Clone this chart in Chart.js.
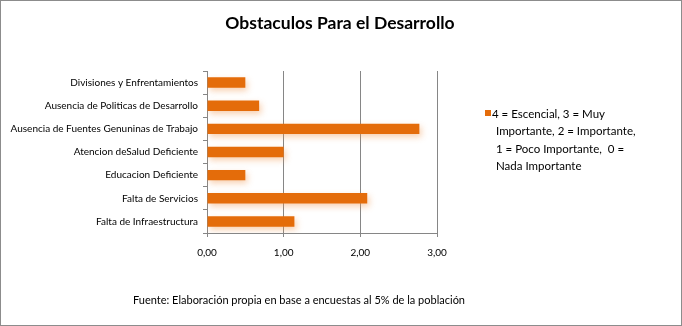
<!DOCTYPE html>
<html>
<head>
<meta charset="utf-8">
<script src="https://cdn.jsdelivr.net/npm/chart.js@4/dist/chart.umd.min.js"></script>
<style>
  html, body { margin: 0; padding: 0; background: #fff; }
  #wrap { width: 682px; height: 326px; }
</style>
</head>
<body>
<div id="wrap"><canvas id="chart" width="682" height="326"></canvas></div>
<script>
// Obstacles to development: average importance score per item
const categories = [
  'Divisiones y Enfrentamientos',
  'Ausencia de Politicas de Desarrollo',
  'Ausencia de Fuentes Genuninas de Trabajo',
  'Atencion deSalud Deficiente',
  'Educacion Deficiente',
  'Falta de Servicios',
  'Falta de Infraestructura'
];
const scores = [0.50, 0.68, 2.77, 1.00, 0.50, 2.09, 1.14];
const seriesLabel = '4 = Escencial, 3 = Muy Importante, 2 = Importante, 1 = Poco Importante,  0 = Nada Importante';
const legendLines = [
  '4 = Escencial, 3 = Muy',
  'Importante, 2 = Importante,',
  '1 = Poco Importante,  0 =',
  'Nada Importante'
];
const tickValues = [0, 1, 2, 3];
const chartTitle = 'Obstaculos Para el Desarrollo';
const sourceNote = 'Fuente: Elaboración propia en base a encuestas al 5% de la población';

const ORANGE = '#E46C0A';
const GRID = '#868686';
const FONT = 'Lato, "Open Sans", sans-serif';

// White background + thin frame around the whole figure
const framePlugin = {
  id: 'frame',
  beforeDraw(chart) {
    const c = chart.ctx;
    c.save();
    c.fillStyle = '#fff';
    c.fillRect(0, 0, chart.width, chart.height);
    c.restore();
  },
  afterDraw(chart) {
    const c = chart.ctx;
    c.save();
    c.strokeStyle = '#8c8c8c';
    c.lineWidth = 1;
    c.strokeRect(0.5, 0.5, chart.width - 1, chart.height - 1);
    c.restore();
  }
};

// Soft drop shadow under the bars
const shadowPlugin = {
  id: 'barShadow',
  beforeDatasetsDraw(chart) {
    const c = chart.ctx;
    c.save();
    c.shadowColor = 'rgba(240,150,80,0.45)';
    c.shadowBlur = 6;
    c.shadowOffsetX = 2;
    c.shadowOffsetY = 3;
  },
  afterDatasetsDraw(chart) {
    chart.ctx.restore();
  }
};

// Centered heading, side legend with wrapped text, and the source note
const notesPlugin = {
  id: 'notes',
  afterDraw(chart) {
    const c = chart.ctx;
    const ds = chart.data.datasets[0];
    c.save();
    c.fillStyle = '#000';
    c.textBaseline = 'middle';
    c.textAlign = 'center';
    c.font = 'bold 17.5px ' + FONT;
    c.fillText(chartTitle, 340, 23);

    c.fillStyle = ds.backgroundColor;
    c.fillRect(485, 110, 6, 6);
    c.fillStyle = '#000';
    c.font = '11.5px ' + FONT;
    c.textAlign = 'left';
    legendLines.forEach((line, i) => {
      c.fillText(line, i === 0 ? 492 : 496, 114 + i * 17.5);
    });
    c.font = '11px ' + FONT;
    c.textAlign = 'center';
    c.fillText(sourceNote, 299, 300);
    c.restore();
  }
};

new Chart(document.getElementById('chart'), {
  type: 'bar',
  data: {
    labels: categories,
    datasets: [{
      label: seriesLabel,
      data: scores,
      backgroundColor: ORANGE,
      borderWidth: 0,
      barPercentage: 0.45,
      categoryPercentage: 1.0
    }]
  },
  plugins: [framePlugin, shadowPlugin, notesPlugin],
  options: {
    indexAxis: 'y',
    responsive: false,
    animation: false,
    devicePixelRatio: 1,
    layout: { padding: { left: 0, right: 245, top: 71, bottom: 63 } },
    plugins: {
      legend: { display: false },
      tooltip: { enabled: false },
      title: { display: false }
    },
    scales: {
      x: {
        min: 0,
        max: 3,
        afterFit(scale) { scale.height = 30; },
        afterBuildTicks(scale) { scale.ticks = tickValues.map(v => ({ value: v })); },
        ticks: {
          color: '#000',
          font: { family: FONT, size: 10 },
          padding: 10,
          callback: v => Number(v).toFixed(2).replace('.', ',')
        },
        grid: { color: GRID, lineWidth: 1, tickLength: 4, drawTicks: true },
        border: { display: true, color: GRID }
      },
      y: {
        afterFit(scale) { scale.width = 207; },
        ticks: {
          color: '#000',
          font: { family: FONT, size: 10 },
          padding: 5
        },
        grid: { display: true, offset: true, drawOnChartArea: false, drawTicks: true, tickLength: 4, color: GRID },
        border: { display: true, color: GRID }
      }
    }
  }
});
</script>
</body>
</html>
